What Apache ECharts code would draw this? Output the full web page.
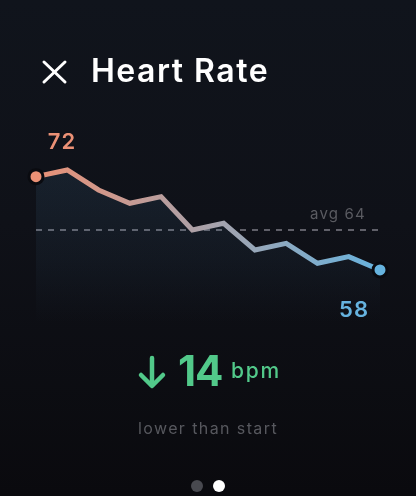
<!DOCTYPE html>
<html><head><meta charset="utf-8">
<style>html,body{margin:0;padding:0;background:#0c0d12}#c{width:416px;height:496px}</style>
<script src="https://cdn.jsdelivr.net/npm/echarts@6/dist/echarts.min.js"></script>
</head><body><div id="c"></div>
<script>
const titleText = 'Heart Rate';
const categories = ['1','2','3','4','5','6','7','8','9','10','11','12'];
const heartRate = [72,73,70,68,69,64,65,61,62,59,60,58];
const average = 64;
const unit = 'bpm';
const caption = 'lower than start';
const avgLabel = 'avg ' + average;
const drop = heartRate[0] - heartRate[heartRate.length - 1];
const warm = '#EB9176', cool = '#66B3DF', green = '#52C98A';
const font = 'Inter';
const LG = echarts.graphic.LinearGradient;
const last = heartRate.length - 1;

// zrender has no letter spacing: apply it per text on the canvas context
const tracking = {[titleText]: 1.5, [unit]: 1.8, [caption]: 1.4, [avgLabel]: 1.2, [String(drop)]: -1,
  [String(heartRate[0])]: 1, [String(heartRate[last])]: 1};
const rawFill = CanvasRenderingContext2D.prototype.fillText;
CanvasRenderingContext2D.prototype.fillText = function (t, x, y, w) {
  this.letterSpacing = (tracking[t] || 0) + 'px';
  return w === undefined ? rawFill.call(this, t, x, y) : rawFill.call(this, t, x, y, w);
};

const seriesData = heartRate.map((v, i) => {
  if (i === 0) return {value: v, symbolSize: 14, itemStyle: {color: warm},
    label: {show: true, position: 'top', offset: [26, -10], formatter: '{c}', color: warm, fontSize: 22, fontWeight: 600, fontFamily: font}};
  if (i === last) return {value: v, symbolSize: 14, itemStyle: {color: cool},
    label: {show: true, position: 'bottom', offset: [-26, 16], formatter: '{c}', color: cool, fontSize: 22, fontWeight: 600, fontFamily: font}};
  return {value: v, symbolSize: 0};
});
const chart = echarts.init(document.getElementById('c'), null, {renderer: 'canvas'});
chart.setOption({
  animation: false,
  backgroundColor: new LG(0, 0, 0, 1, [{offset: 0, color: '#10141c'}, {offset: 0.45, color: '#0f1118'}, {offset: 1, color: '#0a0a0e'}]),
  grid: {left: 36, right: 36, top: 123.3, bottom: 172.7},
  xAxis: {type: 'category', data: categories, boundaryGap: false, show: false},
  yAxis: {type: 'value', min: 50, max: 80, show: false},
  series: [{
    type: 'line', data: seriesData, smooth: false, showSymbol: true, showAllSymbol: true, symbol: 'circle', z: 5,
    itemStyle: {borderColor: '#0a0b10', borderWidth: 3},
    lineStyle: {width: 5, cap: 'round', join: 'miter', color: new LG(0, 0, 1, 0, [{offset: 0, color: warm}, {offset: 1, color: cool}])},
    areaStyle: {origin: 'start', color: new LG(0, 0, 0, 1, [{offset: 0, color: 'rgba(95,165,215,0.15)'}, {offset: 0.6, color: 'rgba(95,165,215,0.07)'}, {offset: 1, color: 'rgba(95,165,215,0)'}])},
    markLine: {
      silent: true, symbol: 'none',
      lineStyle: {type: [6, 6], width: 2, color: 'rgba(150,150,160,0.6)'},
      data: [{yAxis: average,
        label: {show: true, position: 'insideEndTop', formatter: avgLabel, color: '#5a5b61', fontSize: 15, fontFamily: font, distance: [14, 8]}}]
    }
  }],
  graphic: [
    {type: 'line', shape: {x1: 44, y1: 62, x2: 65, y2: 82}, style: {stroke: '#fff', lineWidth: 3, lineCap: 'round'}},
    {type: 'line', shape: {x1: 65, y1: 62, x2: 44, y2: 82}, style: {stroke: '#fff', lineWidth: 3, lineCap: 'round'}},
    {type: 'text', x: 91, y: 72, style: {text: titleText, fill: '#fff', font: '600 32px Inter', textVerticalAlign: 'middle'}},
    {type: 'line', shape: {x1: 152, y1: 358, x2: 152, y2: 385}, style: {stroke: green, lineWidth: 4.5, lineCap: 'round'}},
    {type: 'polyline', shape: {points: [[141, 375], [152, 386], [163, 375]]}, style: {stroke: green, fill: null, lineWidth: 4.5, lineCap: 'round', lineJoin: 'round'}},
    {type: 'text', x: 178, y: 373, style: {text: String(drop), fill: green, font: '700 42px Inter', textVerticalAlign: 'middle'}},
    {type: 'text', x: 231, y: 372, style: {text: unit, fill: green, font: '500 21px Inter', textVerticalAlign: 'middle'}},
    {type: 'text', x: 208, y: 429, style: {text: caption, fill: '#57585e', font: '400 16px Inter', textAlign: 'center', textVerticalAlign: 'middle'}},
    {type: 'circle', shape: {cx: 197, cy: 486, r: 6}, style: {fill: '#48494f'}},
    {type: 'circle', shape: {cx: 219, cy: 486, r: 6}, style: {fill: '#ffffff'}}
  ]
});
</script></body></html>
